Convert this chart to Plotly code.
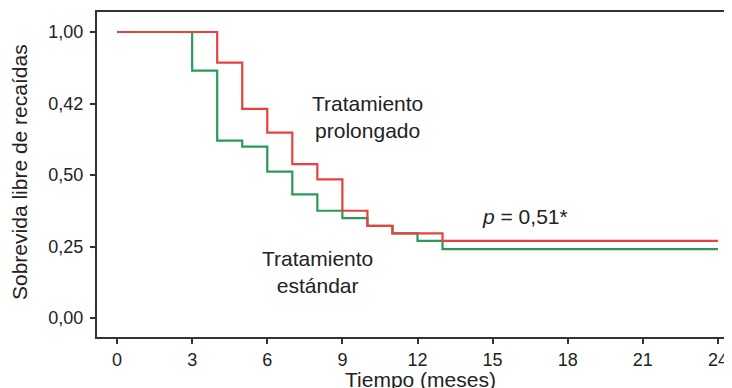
import plotly.graph_objects as go

# Kaplan-Meier step data (months, survival)
prolongado_t = [0, 4, 5, 6, 7, 8, 9, 10, 11, 13, 24]
prolongado_s = [1.00, 0.893, 0.731, 0.648, 0.538, 0.485, 0.375, 0.322, 0.296, 0.270, 0.270]

estandar_t = [0, 3, 4, 5, 6, 7, 8, 9, 10, 11, 12, 13, 24]
estandar_s = [1.00, 0.865, 0.620, 0.599, 0.512, 0.432, 0.375, 0.349, 0.322, 0.296, 0.270, 0.241, 0.241]

x_ticks = [0, 3, 6, 9, 12, 15, 18, 21, 24]
y_tickvals = [0.0, 0.25, 0.5, 0.75, 1.0]
y_ticktext = ["0,00", "0,25", "0,50", "0,42", "1,00"]

FONT = "Arial, Liberation Sans, sans-serif"
RED = "#e8403f"
GREEN = "#2b9958"
TXT = "#222222"

# page body has an 8px margin; plot area should span x 97..732, y 12..337 in the window
OFF = 8
W, H = 732 - OFF, 388 - OFF
L, T, R, B = 97 - OFF, 12 - OFF, 0, 388 - 337
PW, PH = W - L - R, H - T - B

fig = go.Figure()
fig.add_trace(go.Scatter(x=estandar_t, y=estandar_s, mode="lines",
                         line=dict(shape="hv", color=GREEN, width=2.2),
                         hoverinfo="skip", showlegend=False))
fig.add_trace(go.Scatter(x=prolongado_t, y=prolongado_s, mode="lines",
                         line=dict(shape="hv", color=RED, width=2.2),
                         hoverinfo="skip", showlegend=False))

fig.add_annotation(x=10.0, y=0.703, text="Tratamiento<br>prolongado", showarrow=False,
                   font=dict(family=FONT, size=21, color=TXT), xanchor="center", yanchor="middle")
fig.add_annotation(x=8.0, y=0.161, text="Tratamiento<br>estándar", showarrow=False,
                   font=dict(family=FONT, size=21, color=TXT), xanchor="center", yanchor="middle")
fig.add_annotation(x=16.3, y=0.354, text="<i>p</i> = 0,51*", showarrow=False,
                   font=dict(family=FONT, size=21, color=TXT), xanchor="center", yanchor="middle")

# axis titles (positioned in window pixels)
fig.add_annotation(xref="paper", yref="paper", x=(420 - 97) / PW, y=(337 - 379) / PH,
                   text="Tiempo (meses)", showarrow=False,
                   font=dict(family=FONT, size=21, color=TXT), xanchor="center", yanchor="middle")
fig.add_annotation(xref="paper", yref="paper", x=(19 - 97) / PW, y=(337 - 172) / PH,
                   text="Sobrevida libre de recaídas", showarrow=False, textangle=-90,
                   font=dict(family=FONT, size=21, color=TXT), xanchor="center", yanchor="middle")

fig.update_layout(
    width=W, height=H,
    margin=dict(l=L, r=R, t=T, b=B, pad=0),
    paper_bgcolor="white", plot_bgcolor="white",
    font=dict(family=FONT, color=TXT),
    xaxis=dict(range=[-0.8, 24.56], tickvals=x_ticks, ticks="outside", ticklen=5,
               tickcolor="#333", tickwidth=2, showgrid=False, zeroline=False,
               showline=True, linecolor="#333", linewidth=2, mirror=True,
               ticklabeloverflow="allow",
               tickfont=dict(family=FONT, size=18, color=TXT)),
    yaxis=dict(range=[-0.0664, 1.07], tickvals=y_tickvals, ticktext=y_ticktext,
               ticks="outside", ticklen=5, tickcolor="#333", tickwidth=2,
               ticklabelstandoff=3,
               showgrid=False, zeroline=False, showline=True, linecolor="#333", linewidth=2,
               tickfont=dict(family=FONT, size=18, color=TXT)),
)

fig.write_html("out.html")
